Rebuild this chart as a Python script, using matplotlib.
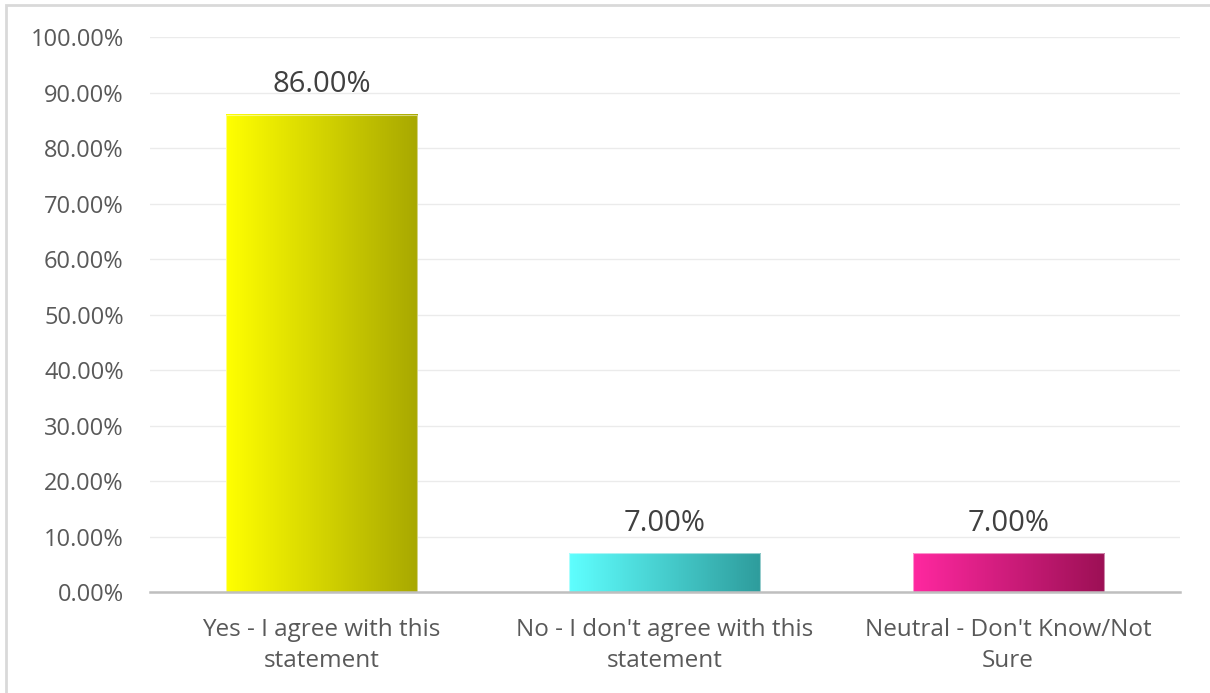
import numpy as np
import matplotlib.pyplot as plt
from matplotlib.colors import LinearSegmentedColormap
from matplotlib.patches import Rectangle

# Data
categories = ["Yes - I agree with this\nstatement",
              "No - I don't agree with this\nstatement",
              "Neutral - Don't Know/Not\nSure"]
values = [86.0, 7.0, 7.0]
# left / right colours of each bar's gradient
grad_left = ["#FFFF00", "#5FFFFF", "#FF28A0"]
grad_right = ["#A8A800", "#2E9C9C", "#9C1055"]

plt.rcParams['font.family'] = ['Open Sans', 'DejaVu Sans']
text_color = "#595959"

fig = plt.figure(figsize=(12.1, 6.93), dpi=100)
ax = fig.add_axes([0.124, 0.1457, 0.851, 0.8009])

x = np.arange(len(categories))
width = 0.557
bars = ax.bar(x, values, width=width, color="none", edgecolor="none", zorder=3)

grad = np.linspace(0, 1, 256).reshape(1, -1)
for bar, c1, c2 in zip(bars, grad_left, grad_right):
    x0, y0 = bar.get_x(), bar.get_y()
    w, h = bar.get_width(), bar.get_height()
    cmap = LinearSegmentedColormap.from_list("g", [c1, c2])
    ax.imshow(grad, cmap=cmap, aspect="auto", extent=(x0, x0 + w, y0, y0 + h),
              zorder=3, interpolation="bilinear")
    ax.add_patch(Rectangle((x0, y0), w, h, fill=False, edgecolor="white",
                           linewidth=0.8, alpha=0.5, zorder=4))
    ax.text(x0 + w / 2, y0 + h + 5.4, f"{bar.get_height():.2f}%", ha="center",
            va="center", fontsize=21, color="#404040", zorder=5)

ax.set_xlim(-0.5, 2.5)
ax.set_ylim(0, 100)
ax.set_yticks(np.arange(0, 101, 10))
ax.set_yticklabels([f"{v:.2f}%" for v in np.arange(0, 101, 10)])
ax.set_xticks(x)
ax.set_xticklabels(categories, linespacing=1.38)
ax.tick_params(axis="y", length=0, pad=19, labelsize=17, labelcolor=text_color)
ax.tick_params(axis="x", length=0, pad=18.5, labelsize=17.5, labelcolor=text_color)

ax.grid(axis="y", color="#EBEBEB", linewidth=1, zorder=0)
ax.set_axisbelow(True)
for s in ["top", "right", "left"]:
    ax.spines[s].set_visible(False)
ax.spines["bottom"].set_color("#BFBFBF")
ax.spines["bottom"].set_linewidth(1.8)
ax.spines["bottom"].set_zorder(6)

# outer chart border
fig.patches.append(Rectangle((6 / 1210, -0.01), 1.1, 1 - 5 / 693 + 0.01,
                             transform=fig.transFigure, fill=False,
                             edgecolor="#D9D9D9", linewidth=2))

fig.savefig("out.png", dpi=100)
